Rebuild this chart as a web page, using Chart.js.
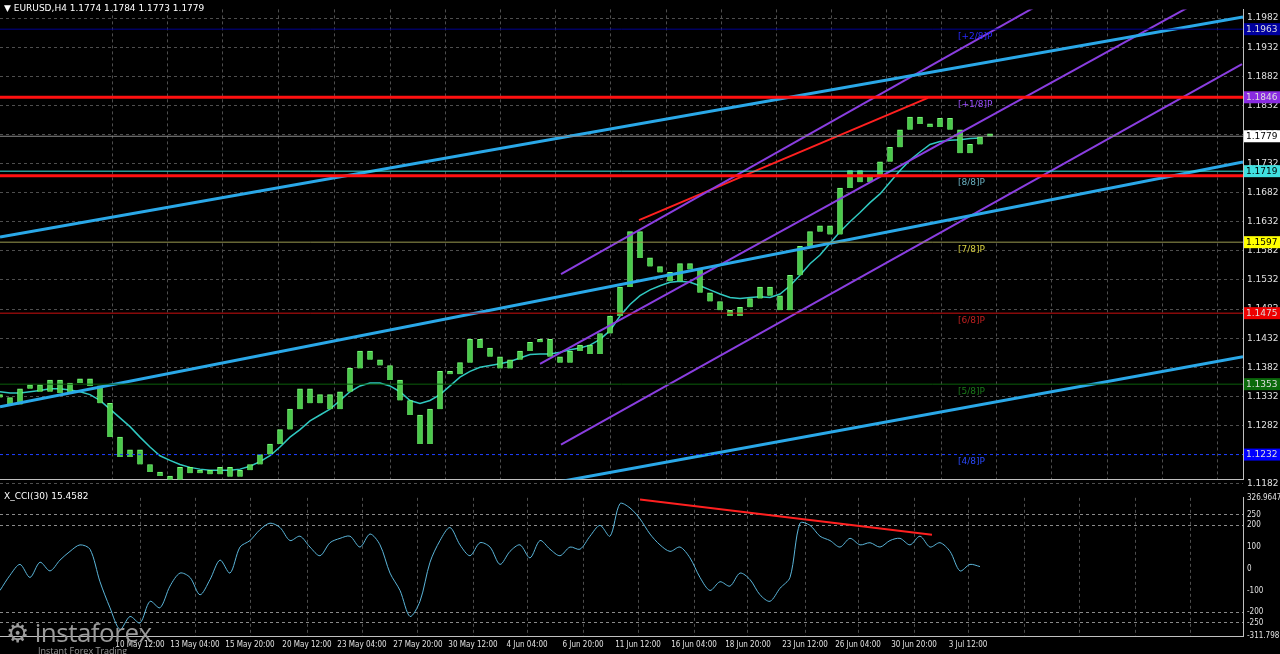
<!DOCTYPE html>
<html><head><meta charset="utf-8">
<script src="https://cdn.jsdelivr.net/npm/chart.js@4"></script>
<style>
html,body{margin:0;padding:0;background:#000;width:1280px;height:654px;overflow:hidden;font-family:"DejaVu Sans",sans-serif}
#c1{position:absolute;left:0;top:0}
#c2{position:absolute;left:0;top:489px}
.t{position:absolute;color:#fff;font-size:9px;white-space:nowrap}
#logo{position:absolute;left:6px;top:614px;color:#9a9a9a;font-family:"Open Sans",sans-serif}
</style></head><body>
<canvas id="c1" width="1280" height="489"></canvas>
<canvas id="c2" width="1280" height="165"></canvas>
<div class="t" style="left:4px;top:3px">▼ EURUSD,H4  1.1774 1.1784 1.1773 1.1779</div>
<div class="t" style="left:4px;top:491px">X_CCI(30) 15.4582</div>
<div id="logo"><span style="font-size:26px;letter-spacing:-0.5px">⚙ instaforex</span><div style="font-size:9px;margin-left:32px;margin-top:-6px">Instant Forex Trading</div></div>
<script>
const closes=[1.1330,1.1318,1.1345,1.1352,1.1340,1.1360,1.1338,1.1355,1.1362,1.1350,1.1320,
1.1262,1.1228,1.1240,1.1215,1.1202,1.1195,1.1185,1.1210,1.1200,1.1205,
1.1198,1.1210,1.1194,1.1205,1.1215,1.1232,1.1250,1.1275,1.1310,1.1345,
1.1320,1.1335,1.1310,1.1340,1.1380,1.1410,1.1395,1.1385,1.1360,1.1325,
1.1300,1.1250,1.1310,1.1375,1.1370,1.1390,1.1430,1.1415,1.1400,1.1380,
1.1395,1.1410,1.1425,1.1430,1.1400,1.1390,1.1410,1.1420,1.1405,1.1440,
1.1470,1.1520,1.1615,1.1570,1.1555,1.1545,1.1530,1.1560,1.1550,1.1510,
1.1495,1.1480,1.1470,1.1485,1.1500,1.1520,1.1505,1.1480,1.1540,1.1590,
1.1615,1.1625,1.1610,1.1690,1.1720,1.1700,1.1710,1.1735,1.1760,1.1790,
1.1812,1.1800,1.1795,1.1810,1.1790,1.1750,1.1765,1.1778,1.1779];
const ma=[1.1340,1.1338,1.1338,1.1340,1.1342,1.1345,1.1345,1.1343,1.1340,1.1335,1.1325,1.1310,1.1295,1.1280,1.1262,1.1245,1.1230,1.1222,1.1215,1.1210,1.1207,1.1205,1.1205,1.1205,1.1207,1.1212,1.1220,1.1230,1.1245,1.1262,1.1275,1.1290,1.1300,1.1310,1.1325,1.1340,1.1350,1.1355,1.1355,1.1350,1.1340,1.1325,1.1320,1.1325,1.1335,1.1350,1.1365,1.1375,1.1382,1.1385,1.1388,1.1392,1.1398,1.1404,1.1405,1.1405,1.1408,1.1412,1.1415,1.1420,1.1430,1.1445,1.1470,1.1490,1.1505,1.1515,1.1522,1.1528,1.1530,1.1528,1.1522,1.1515,1.1508,1.1502,1.1500,1.1502,1.1503,1.1502,1.1508,1.1522,1.1540,1.1560,1.1575,1.1595,1.1615,1.1632,1.1648,1.1665,1.1680,1.1700,1.1720,1.1738,1.1752,1.1765,1.1770,1.1772,1.1773,1.1775,1.1776];
const cci=[-100,-30,20,-40,30,-10,40,80,110,90,-60,-180,-280,-220,-250,-150,-180,-80,-20,-40,-120,-50,40,-20,100,130,180,210,190,130,150,100,60,120,140,150,100,160,110,-20,-100,-220,-150,30,130,190,110,60,120,100,20,80,110,50,130,90,60,100,90,150,200,150,300,280,230,160,110,80,100,50,-40,-100,-60,-80,-20,-50,-120,-150,-90,-40,210,200,150,130,100,140,110,120,100,130,140,110,150,100,120,80,-10,20,10];
const priceTicks=[1.1182,1.1232,1.1282,1.1332,1.1382,1.1432,1.1482,1.1532,1.1582,1.1632,1.1682,1.1732,1.1782,1.1832,1.1882,1.1932,1.1982];
const cciTicks=[-311.798,-250,-200,-100,0,100,200,250,326.9647];
const timeLabels=["10 May 12:00","13 May 04:00","15 May 20:00","20 May 12:00","23 May 04:00","27 May 20:00","30 May 12:00","4 Jun 04:00","6 Jun 20:00","11 Jun 12:00","16 Jun 04:00","18 Jun 20:00","23 Jun 12:00","26 Jun 04:00","30 Jun 20:00","3 Jul 12:00","","","",""];
const timePos=[14.0,19.5,25.0,30.7,36.2,41.8,47.3,52.7,58.3,63.8,69.4,74.8,80.5,85.8,91.4,96.8,102.4,107.9,113.5,119.0];
const levels=[
 {v:1.1963,c:'#000090',w:1,d:[],tag:'1.1963',tagBg:'#0000a0',lab:'[+2/8]P',lc:'#2a2aff'},
 {v:1.1846,c:'#ff1010',w:3,d:[],tag:'1.1846',tagBg:'#8a2be2',lab:'[+1/8]P',lc:'#9b4dff'},
 {v:1.1779,c:'#8a8a8a',w:1,d:[],tag:'1.1779',tagBg:'#ffffff',tc:'#000'},
 {v:1.1719,c:'#40e0e0',w:1,d:[],tag:'1.1719',tagBg:'#40e0e0',tc:'#000'},
 {v:1.1711,c:'#ff1010',w:3,d:[],lab:'[8/8]P',lc:'#6ab0c0'},
 {v:1.1597,c:'#9a9a50',w:1,d:[],tag:'1.1597',tagBg:'#ffff00',tc:'#000',lab:'[7/8]P',lc:'#d8d040'},
 {v:1.1475,c:'#cc1010',w:1,d:[],tag:'1.1475',tagBg:'#ee0000',lab:'[6/8]P',lc:'#c02020'},
 {v:1.1353,c:'#0b5e0b',w:1,d:[],tag:'1.1353',tagBg:'#0b6a0b',lab:'[5/8]P',lc:'#1a7a1a'},
 {v:1.1232,c:'#1a3cff',w:1,d:[3,3],tag:'1.1232',tagBg:'#0000ff',lab:'[4/8]P',lc:'#2a4aff'}];
const trendCyan=[[[0,1.1606],[124.3,1.1984]],[[0,1.1314],[124.3,1.1735]],[[52,1.1173],[124.3,1.1400]]];
const trendPurple=[[[56.1,1.1542],[104,1.2006]],[[54,1.1388],[119.4,1.2006]],[[56.1,1.1249],[124.2,1.1903]]];
const trendRed=[[63.9,1.1635],[92.8,1.1845]];
const cciRed=[[64.0,319],[93.2,157]];

const XMIN=0,XMAX=124.3;
const grid={color:'#4e4e4e',lineWidth:1,drawTicks:false};
const fixW=s=>{s.width=37;};
const ds=[];
levels.forEach(l=>ds.push({type:'line',data:[{x:XMIN,y:l.v},{x:XMAX,y:l.v}],borderColor:l.c,borderWidth:l.w,borderDash:l.d,pointRadius:0}));
trendCyan.forEach(t=>ds.push({type:'line',data:t.map(p=>({x:p[0],y:p[1]})),borderColor:'#2aa8e8',borderWidth:3,pointRadius:0}));
trendPurple.forEach(t=>ds.push({type:'line',data:t.map(p=>({x:p[0],y:p[1]})),borderColor:'#8a3ee0',borderWidth:2,pointRadius:0}));
ds.push({type:'line',data:trendRed.map(p=>({x:p[0],y:p[1]})),borderColor:'#ff2020',borderWidth:2,pointRadius:0});
ds.push({type:'bar',data:closes.map((c,i)=>({x:i,y:[i?closes[i-1]:c,c]})),backgroundColor:'#48c848',borderColor:'#7cff7c',borderWidth:1,barThickness:5,minBarLength:3,grouped:false});
ds.push({type:'line',data:ma.map((v,i)=>({x:i,y:v})),borderColor:'#30c8c0',borderWidth:1.5,pointRadius:0});

const tagPlugin={id:'tags',afterDraw(ch){
 const c=ch.ctx,y=ch.scales.y,x=ch.scales.x;
 c.save();c.font='9px "DejaVu Sans"';c.textBaseline='middle';
 levels.forEach(l=>{const py=y.getPixelForValue(l.v);
  if(l.lab){c.fillStyle=l.lc;c.fillText(l.lab,x.getPixelForValue(95.8),py+7);}
  if(l.tag){c.fillStyle=l.tagBg;c.fillRect(1244,py-6,36,12);c.fillStyle=l.tc||'#ddd';c.fillText(l.tag,1246,py);}
 });c.restore();}};

new Chart(document.getElementById('c1'),{data:{datasets:ds},plugins:[tagPlugin],options:{
 responsive:false,animation:false,
 layout:{padding:{top:2,bottom:2,left:0,right:0}},
 plugins:{legend:{display:false},tooltip:{enabled:false}},
 scales:{
  x:{type:'linear',min:XMIN,max:XMAX,offset:false,afterBuildTicks:s=>{s.ticks=timePos.map(v=>({value:v}));},ticks:{display:false},grid:grid,border:{color:'#c0c0c0',dash:[3,3]}},
  y:{position:'right',min:1.1189,max:1.1997,afterFit:fixW,afterBuildTicks:s=>{s.ticks=priceTicks.map(v=>({value:v}));},
     ticks:{color:'#e0e0e0',font:{size:9,family:'DejaVu Sans'},padding:4,callback:v=>v.toFixed(4)},grid:grid,border:{color:'#c0c0c0',dash:[3,3]}}
 }}});

const ds2=[{type:'line',data:cci.map((v,i)=>({x:i,y:v})),borderColor:'#5ab4d8',borderWidth:1,pointRadius:0,tension:0.3},
 {type:'line',data:cciRed.map(p=>({x:p[0],y:p[1]})),borderColor:'#ff2020',borderWidth:2,pointRadius:0}];
new Chart(document.getElementById('c2'),{data:{datasets:ds2},options:{
 responsive:false,animation:false,
 layout:{padding:{top:4,bottom:0,left:0,right:0}},
 plugins:{legend:{display:false},tooltip:{enabled:false}},
 scales:{
  x:{type:'linear',min:XMIN,max:XMAX,offset:false,afterBuildTicks:s=>{s.ticks=timePos.map(v=>({value:v}));},
     ticks:{color:'#e0e0e0',font:{size:8,family:'DejaVu Sans Condensed'},maxRotation:0,autoSkip:false,padding:4,callback:(v,i)=>timeLabels[i]},
     grid:grid,border:{color:'#c0c0c0',dash:[3,3]}},
  y:{position:'right',min:-311.798,max:326.9647,afterFit:fixW,afterBuildTicks:s=>{s.ticks=cciTicks.map(v=>({value:v}));},
     ticks:{color:'#e0e0e0',font:{size:8,family:'DejaVu Sans Condensed'},padding:4,callback:v=>String(v)},
     grid:{color:c=>[-250,-200,200,250].includes(c.tick&&c.tick.value)?'#8a8a8a':'rgba(0,0,0,0)',drawTicks:false},border:{color:'#c0c0c0',dash:[3,3]}}
 }}});
</script></body></html>
